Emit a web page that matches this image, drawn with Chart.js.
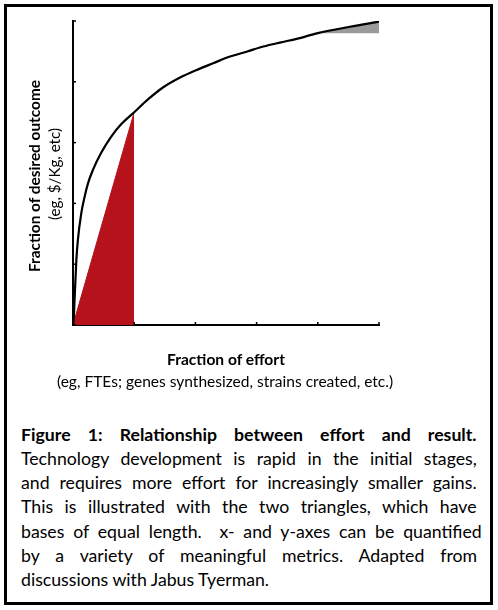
<!DOCTYPE html>
<html>
<head>
<meta charset="utf-8">
<script src="https://cdn.jsdelivr.net/npm/chart.js@4.4.1/dist/chart.umd.min.js"></script>
<style>
    html, body { margin: 0; padding: 0; background: #fff; }
    body { width: 498px; height: 610px; position: relative; overflow: hidden; font-family: Lato, "Open Sans", sans-serif; color: #000; }
    #frame { position: absolute; left: 4px; top: 4px; width: 489px; height: 601px; border: 3px solid #000; box-sizing: border-box; }
    #plot { position: absolute; left: 0; top: 0; }
    .lbl { position: absolute; white-space: nowrap; line-height: 1; transform: translate(-50%, -50%); }
    .rot { transform: translate(-50%, -50%) rotate(-90deg); }
    #caption { position: absolute; left: 21px; top: 423px; width: 456px; font-size: 17.7px; }
    #caption div { white-space: nowrap; height: 24.17px; line-height: 24.17px; }
    #caption b { font-weight: 700; }
</style>
</head>
<body>
<canvas id="plot" width="498" height="400"></canvas>

<div class="lbl rot" id="ytitle" style="left:35px; top:176px; font-weight:700; font-size:15px">Fraction of desired outcome</div>
<div class="lbl rot" id="ysub" style="left:55px; top:174px; font-size:14px">(eg, $/Kg, etc)</div>
<div class="lbl" id="xtitle" style="left:226px; top:360px; font-weight:700; font-size:14px">Fraction of effort</div>
<div class="lbl" id="xsub" style="left:225px; top:382px; font-size:13px">(eg, FTEs; genes synthesized, strains created, etc.)</div>

<div id="caption">
    <div class="j"><b>Figure 1: Relationship between effort and result.</b></div>
    <div class="j">Technology development is rapid in the initial stages,</div>
    <div class="j">and requires more effort for increasingly smaller gains.</div>
    <div class="j">This is illustrated with the two triangles, which have</div>
    <div class="j">bases of equal length.&nbsp; x- and y-axes can be quantified</div>
    <div class="j">by a variety of meaningful metrics. Adapted from</div>
    <div>discussions with Jabus Tyerman.</div>
</div>

<div id="frame"></div>

<script>
// effort vs outcome curve
const effort  = [0, 0.003, 0.005, 0.011, 0.016, 0.027, 0.038, 0.049, 0.065, 0.093, 0.125, 0.158, 0.2, 0.245, 0.295, 0.35, 0.404, 0.458, 0.513, 0.567, 0.622, 0.676, 0.731, 0.8, 0.905, 1.0]
const outcome = [0, 0.03, 0.082, 0.214, 0.28, 0.367, 0.422, 0.466, 0.51, 0.568, 0.62, 0.661, 0.70, 0.742, 0.782, 0.814, 0.839, 0.861, 0.883, 0.899, 0.916, 0.929, 0.941, 0.96, 0.981, 0.998]

// red triangle: base 0..0.2, up to the curve
const redX = [0, 0.2]
const redY = [0, 0.70]

// gray triangle: base 0.8..1.0, from 0.96 up to the curve
const grayX = [0.8, 1.0]
const grayY = [0.96, 0.998]
const grayBase = 0.96

const tickStep = 0.2

function pts(xs, ys) {
    return xs.map((x, i) => ({x: x, y: ys[i]}))
}

// short ticks pointing into the plot
const inwardTicks = {
    id: 'inwardTicks',
    afterDraw(chart) {
        const ctx = chart.ctx
        const x = chart.scales.x, y = chart.scales.y
        ctx.save()
        ctx.strokeStyle = '#000'
        ctx.lineWidth = 1.5
        x.ticks.forEach((t) => {
            const px = x.getPixelForValue(t.value)
            ctx.beginPath()
            ctx.moveTo(px, y.bottom)
            ctx.lineTo(px, y.bottom - 3)
            ctx.stroke()
        })
        y.ticks.forEach((t) => {
            const py = y.getPixelForValue(t.value)
            ctx.beginPath()
            ctx.moveTo(x.left, py)
            ctx.lineTo(x.left + 3, py)
            ctx.stroke()
        })
        ctx.restore()
    }
}

const axis = {
    type: 'linear',
    min: 0,
    max: 1,
    ticks: {display: false, stepSize: tickStep},
    grid: {drawOnChartArea: false, drawTicks: false},
    border: {color: '#000', width: 2}
}

new Chart(document.getElementById('plot').getContext('2d'), {
    type: 'line',
    data: {
        datasets: [{
            data: pts(effort, outcome),
            borderColor: '#000',
            borderWidth: 2.2,
            cubicInterpolationMode: 'monotone',
            pointRadius: 0,
            fill: false,
            order: 0
        }, {
            data: pts(redX, redY),
            borderColor: '#b5121b',
            backgroundColor: '#b5121b',
            borderWidth: 1,
            pointRadius: 0,
            fill: 'origin',
            order: 1
        }, {
            data: pts(grayX, grayY),
            borderColor: '#7a7a7a',
            backgroundColor: '#9a9a9a',
            borderWidth: 1,
            pointRadius: 0,
            fill: {value: grayBase},
            order: 1
        }]
    },
    options: {
        responsive: false,
        animation: false,
        events: [],
        layout: {padding: {left: 73, top: 21, right: 119, bottom: 75}},
        plugins: {
            legend: {display: false},
            tooltip: {enabled: false}
        },
        scales: {x: axis, y: axis}
    },
    plugins: [inwardTicks]
})

// size the axis labels to the widths in the picture
function fitWidth(id, target) {
    const el = document.getElementById(id)
    const fs = parseFloat(el.style.fontSize)
    el.style.fontSize = (fs * target / el.offsetWidth) + 'px'
}
fitWidth('ytitle', 192)
fitWidth('ysub', 92)
fitWidth('xtitle', 118)
fitWidth('xsub', 336)

// justify each caption line to the full width
document.querySelectorAll('#caption .j').forEach((line) => {
    const span = document.createElement('span')
    span.innerHTML = line.innerHTML
    line.innerHTML = ''
    line.appendChild(span)
    const gaps = (span.textContent.match(/ /g) || []).length
    const extra = 456 - span.offsetWidth
    if (gaps > 0) span.style.wordSpacing = (extra / gaps) + 'px'
})
</script>
</body>
</html>
